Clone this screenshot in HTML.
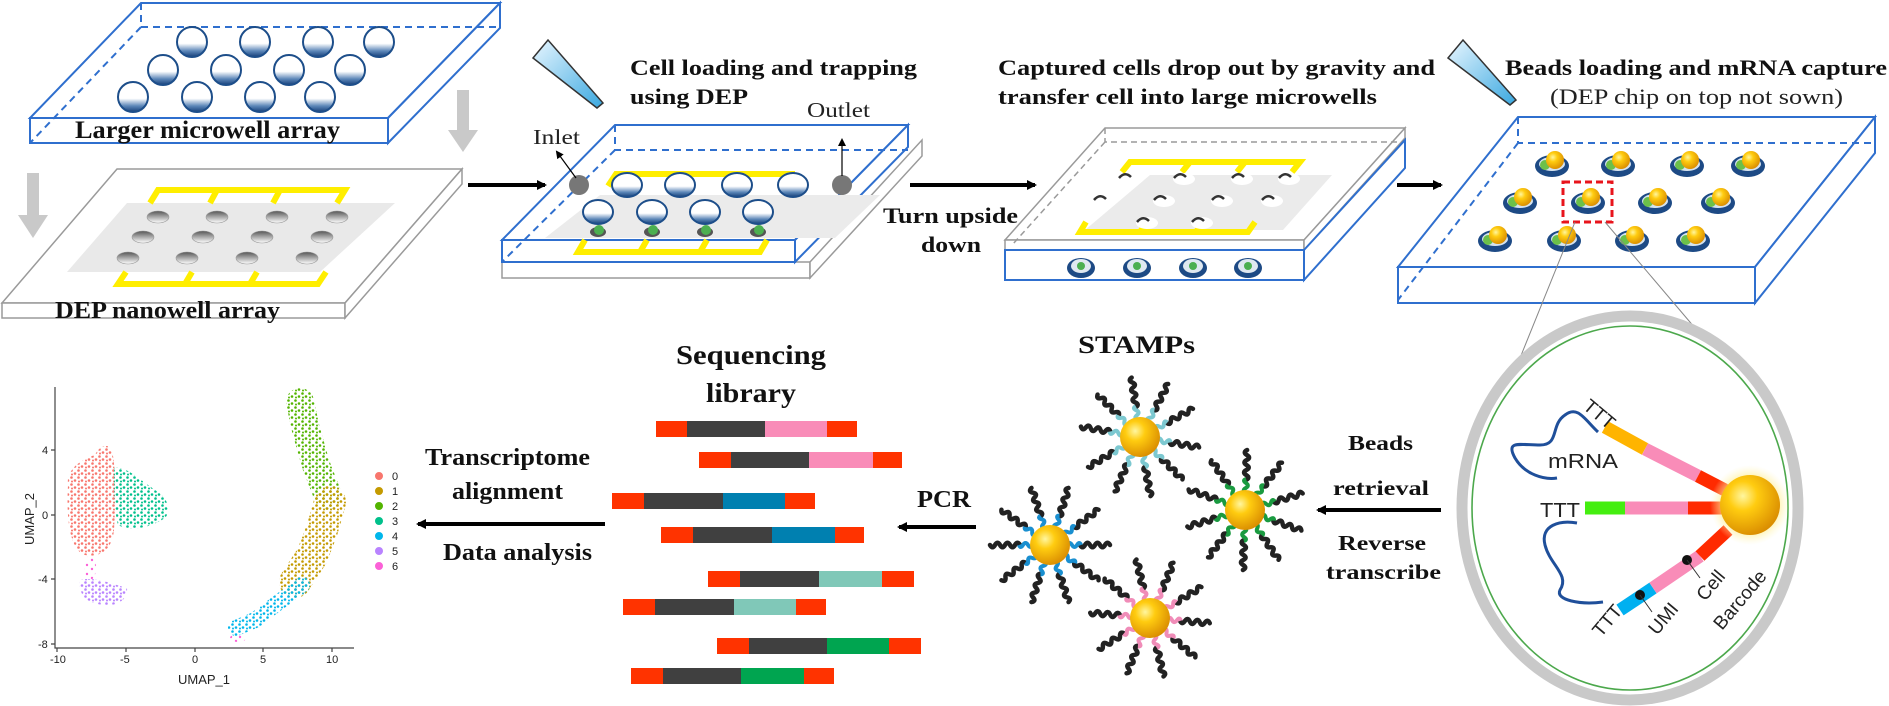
<!DOCTYPE html>
<html><head><meta charset="utf-8">
<style>
html,body{margin:0;padding:0;background:#fff;}
svg{display:block;}
.b{font-family:"Liberation Serif",serif;font-weight:bold;fill:#111;}
.n{font-family:"Liberation Serif",serif;fill:#222;}
.s{font-family:"Liberation Sans",sans-serif;fill:#222;}
</style></head><body>
<svg width="1889" height="706" viewBox="0 0 1889 706" xmlns="http://www.w3.org/2000/svg" xmlns:xlink="http://www.w3.org/1999/xlink">
<defs>
<radialGradient id="gold" cx="0.38" cy="0.35" r="0.7"><stop offset="0" stop-color="#fff6a0"/><stop offset="0.35" stop-color="#ffcc10"/><stop offset="1" stop-color="#d88a00"/></radialGradient>
<radialGradient id="glow" cx="0.5" cy="0.5" r="0.5"><stop offset="0.6" stop-color="#ffe97a" stop-opacity="0.9"/><stop offset="1" stop-color="#fff7c0" stop-opacity="0"/></radialGradient>
<linearGradient id="pip" x1="0" y1="0" x2="1" y2="1"><stop offset="0" stop-color="#e8f6ff"/><stop offset="1" stop-color="#3aa8e0"/></linearGradient>
<linearGradient id="well" x1="0" y1="0" x2="0" y2="1"><stop offset="0" stop-color="#555"/><stop offset="0.5" stop-color="#aaa"/><stop offset="1" stop-color="#fff"/></linearGradient>
<linearGradient id="mwg" x1="0" y1="0" x2="0" y2="1"><stop offset="0" stop-color="#ffffff"/><stop offset="0.55" stop-color="#ffffff"/><stop offset="0.8" stop-color="#5b86b8"/><stop offset="1" stop-color="#163f78"/></linearGradient>
<marker id="ah" markerWidth="10" markerHeight="10" refX="8" refY="5" orient="auto" markerUnits="userSpaceOnUse"><path d="M0,0 L10,5 L0,10 z" fill="#000"/></marker>
<marker id="ahs" markerWidth="8" markerHeight="8" refX="6" refY="4" orient="auto" markerUnits="userSpaceOnUse"><path d="M0,0 L8,4 L0,8 z" fill="#000"/></marker>

<g id="mw"><circle r="15" fill="url(#mwg)" stroke="#1d4e8a" stroke-width="2"/></g>
<g id="mw2"><ellipse rx="15" ry="12" fill="url(#mwg)" stroke="#1d4e8a" stroke-width="2"/></g>
<g id="nw"><ellipse rx="11" ry="6" fill="url(#well)" stroke="#999" stroke-width="0.6"/></g>
<g id="gc"><ellipse cy="1" rx="8" ry="5" fill="#555"/><circle cx="1" cy="-1" r="5" fill="#4caf50"/></g>
<g id="hole"><ellipse cx="4" cy="1" rx="11" ry="6" fill="#fff"/><path d="M-6,0 q6,-7 12,-1" stroke="#333" stroke-width="2.5" fill="none"/></g>
<g id="cell3"><ellipse rx="14" ry="10" fill="#1d4a85"/><ellipse cy="-2" rx="10" ry="7" fill="#dfe8f0"/><circle cy="-2" r="4" fill="#4caf50"/></g>
<g id="bd"><ellipse cy="3" rx="17" ry="11" fill="#1d4a85"/><ellipse cy="1" rx="13" ry="7" fill="#d5e3ef"/><circle cx="-7" cy="2" r="5" fill="#6cc04a"/><circle cx="3" cy="-3" r="9" fill="url(#gold)"/></g>

<path id="blk" d="M30,0 Q32.5,4.5 35,0 T40,0 T45,0 T50,0 T55,0 T60,0" stroke="#222" stroke-width="4.5" fill="none" stroke-linecap="round"/>
<g id="sc"><use href="#blk" xlink:href="#blk"/><path d="M17,0 Q19.5,-4 22,0 T27,0 T31,0" stroke="#7cc8d0" stroke-width="4" fill="none"/></g>
<g id="sb"><use href="#blk" xlink:href="#blk"/><path d="M17,0 Q19.5,-4 22,0 T27,0 T31,0" stroke="#1a8fd0" stroke-width="4" fill="none"/></g>
<g id="sg"><use href="#blk" xlink:href="#blk"/><path d="M17,0 Q19.5,-4 22,0 T27,0 T31,0" stroke="#1a9a40" stroke-width="4" fill="none"/></g>
<g id="sp"><use href="#blk" xlink:href="#blk"/><path d="M17,0 Q19.5,-4 22,0 T27,0 T31,0" stroke="#f08cb8" stroke-width="4" fill="none"/></g>

<pattern id="p0" width="7" height="7" patternUnits="userSpaceOnUse"><circle cx="1.5" cy="1.5" r="1.3" fill="#f8766d"/><circle cx="5" cy="4.5" r="1.3" fill="#f8766d"/><circle cx="2" cy="5.5" r="1" fill="#f8766d"/></pattern>
<pattern id="p1" width="7" height="7" patternUnits="userSpaceOnUse"><circle cx="1.5" cy="1.5" r="1.3" fill="#c49a00"/><circle cx="5" cy="4.5" r="1.3" fill="#c49a00"/><circle cx="2" cy="5.5" r="1" fill="#c49a00"/></pattern>
<pattern id="p2" width="7" height="7" patternUnits="userSpaceOnUse"><circle cx="1.5" cy="1.5" r="1.3" fill="#53b400"/><circle cx="5" cy="4.5" r="1.3" fill="#53b400"/><circle cx="2" cy="5.5" r="1" fill="#53b400"/></pattern>
<pattern id="p3" width="7" height="7" patternUnits="userSpaceOnUse"><circle cx="1.5" cy="1.5" r="1.3" fill="#00c08b"/><circle cx="5" cy="4.5" r="1.3" fill="#00c08b"/><circle cx="2" cy="5.5" r="1" fill="#00c08b"/></pattern>
<pattern id="p4" width="7" height="7" patternUnits="userSpaceOnUse"><circle cx="1.5" cy="1.5" r="1.3" fill="#00b6eb"/><circle cx="5" cy="4.5" r="1.3" fill="#00b6eb"/><circle cx="2" cy="5.5" r="1" fill="#00b6eb"/></pattern>
<pattern id="p5" width="7" height="7" patternUnits="userSpaceOnUse"><circle cx="1.5" cy="1.5" r="1.3" fill="#b983ff"/><circle cx="5" cy="4.5" r="1.3" fill="#b983ff"/><circle cx="2" cy="5.5" r="1" fill="#b983ff"/></pattern>
<pattern id="p6" width="9" height="9" patternUnits="userSpaceOnUse"><circle cx="2" cy="2" r="1.2" fill="#fb61d7"/><circle cx="6" cy="7" r="1.2" fill="#fb61d7"/></pattern>
</defs>

<!-- ===== Panel 1 top box ===== -->
<g stroke="#2f6fce" stroke-width="2" fill="none">
<polygon points="141,3 500,3 388,118 30,118" fill="#fff"/>
<rect x="30" y="118" width="358" height="25" fill="#fff"/>
<polygon points="388,118 500,3 500,28 388,143" fill="#fff"/>
<path d="M141,3 L141,27 L500,27 M141,27 L30,143" stroke-dasharray="7,5"/>
</g>
<use href="#mw" xlink:href="#mw" x="192" y="42"/><use href="#mw" xlink:href="#mw" x="255" y="42"/><use href="#mw" xlink:href="#mw" x="318" y="42"/><use href="#mw" xlink:href="#mw" x="379" y="42"/>
<use href="#mw" xlink:href="#mw" x="163" y="70"/><use href="#mw" xlink:href="#mw" x="226" y="70"/><use href="#mw" xlink:href="#mw" x="289" y="70"/><use href="#mw" xlink:href="#mw" x="350" y="70"/>
<use href="#mw" xlink:href="#mw" x="133" y="97"/><use href="#mw" xlink:href="#mw" x="197" y="97"/><use href="#mw" xlink:href="#mw" x="260" y="97"/><use href="#mw" xlink:href="#mw" x="320" y="97"/>
<text class="b" x="75" y="138" font-size="25" textLength="265" lengthAdjust="spacingAndGlyphs">Larger microwell array</text>

<g fill="#c9c9c9">
<rect x="457" y="90" width="12" height="44"/><polygon points="448,130 478,130 463,152"/>
<rect x="27" y="173" width="12" height="46"/><polygon points="18,215 48,215 33,238"/>
</g>

<!-- ===== Panel 1 DEP box ===== -->
<g stroke="#9a9a9a" stroke-width="1.5">
<polygon points="117,169 462,169 345,303 2,303" fill="#fff"/>
<rect x="2" y="303" width="343" height="15" fill="#fff"/>
<polygon points="345,303 462,169 462,184 345,318" fill="#fff"/>
</g>
<polygon points="127,203 395,203 320,272 67,272" fill="#e9e9e9"/>
<g stroke="#ffee00" stroke-width="6" fill="none">
<path d="M150,203 L158,190 L345,190 L337,203 M217,190 L210,203 M280,190 L273,203"/>
<path d="M126,272 L118,284 L318,284 L326,272 M185,284 L192,272 M250,284 L257,272"/>
</g>
<use href="#nw" xlink:href="#nw" x="158" y="217"/><use href="#nw" xlink:href="#nw" x="217" y="217"/><use href="#nw" xlink:href="#nw" x="277" y="217"/><use href="#nw" xlink:href="#nw" x="337" y="217"/>
<use href="#nw" xlink:href="#nw" x="143" y="237"/><use href="#nw" xlink:href="#nw" x="203" y="237"/><use href="#nw" xlink:href="#nw" x="262" y="237"/><use href="#nw" xlink:href="#nw" x="322" y="237"/>
<use href="#nw" xlink:href="#nw" x="128" y="258"/><use href="#nw" xlink:href="#nw" x="187" y="258"/><use href="#nw" xlink:href="#nw" x="247" y="258"/><use href="#nw" xlink:href="#nw" x="307" y="258"/>
<text class="b" x="55" y="318" font-size="24" textLength="225" lengthAdjust="spacingAndGlyphs">DEP nanowell array</text>

<line x1="468" y1="185" x2="545" y2="185" stroke="#000" stroke-width="4" marker-end="url(#ah)"/>

<!-- ===== Panel 2 ===== -->
<polygon points="533,58 548,40 603,103 597,108" fill="url(#pip)" stroke="#333" stroke-width="1.5"/>
<text class="b" x="630" y="75" font-size="22" textLength="287" lengthAdjust="spacingAndGlyphs">Cell loading and trapping</text>
<text class="b" x="630" y="104" font-size="22" textLength="118" lengthAdjust="spacingAndGlyphs">using DEP</text>
<g stroke="#9a9a9a" stroke-width="1.5" fill="#fff">
<rect x="502" y="262" width="308" height="16"/>
<polygon points="810,262 922,140 922,156 810,278"/>
</g>
<g stroke="#2f6fce" stroke-width="2">
<polygon points="615,125 908,125 795,240 502,240" fill="#fff"/>
<rect x="502" y="240" width="293" height="22" fill="#fff"/>
<polygon points="795,240 908,125 908,147 795,262" fill="#fff"/>
<path d="M615,125 L615,150 L908,150 M615,150 L502,262" fill="none" stroke-dasharray="7,5"/>
</g>
<polygon points="600,195 880,195 835,238 545,238" fill="#ebebeb"/>
<g stroke="#ffee00" stroke-width="6" fill="none">
<path d="M608,186 L616,174 L795,174 M680,174 L672,186 M740,174 L732,186"/>
<path d="M585,240 L578,252 L760,252 L767,240 M640,252 L647,240 M700,252 L707,240"/>
</g>
<use href="#mw2" xlink:href="#mw2" x="627" y="185"/><use href="#mw2" xlink:href="#mw2" x="680" y="185"/><use href="#mw2" xlink:href="#mw2" x="737" y="185"/><use href="#mw2" xlink:href="#mw2" x="793" y="185"/>
<use href="#mw2" xlink:href="#mw2" x="598" y="212"/><use href="#mw2" xlink:href="#mw2" x="652" y="212"/><use href="#mw2" xlink:href="#mw2" x="705" y="212"/><use href="#mw2" xlink:href="#mw2" x="758" y="212"/>
<use href="#gc" xlink:href="#gc" x="598" y="231"/><use href="#gc" xlink:href="#gc" x="652" y="231"/><use href="#gc" xlink:href="#gc" x="705" y="231"/><use href="#gc" xlink:href="#gc" x="758" y="231"/>
<circle cx="579" cy="185" r="10" fill="#777"/>
<circle cx="842" cy="185" r="10" fill="#777"/>
<line x1="576" y1="178" x2="557" y2="152" stroke="#000" stroke-width="1.2" marker-end="url(#ahs)"/>
<line x1="842" y1="176" x2="842" y2="140" stroke="#000" stroke-width="1.2" marker-end="url(#ahs)"/>
<text class="n" x="533" y="144" font-size="21" textLength="47" lengthAdjust="spacingAndGlyphs">Inlet</text>
<text class="n" x="807" y="117" font-size="21" textLength="63" lengthAdjust="spacingAndGlyphs">Outlet</text>

<line x1="910" y1="185" x2="1035" y2="185" stroke="#000" stroke-width="4" marker-end="url(#ah)"/>
<text class="b" x="883" y="223" font-size="22" textLength="135" lengthAdjust="spacingAndGlyphs">Turn upside</text>
<text class="b" x="921" y="252" font-size="22" textLength="60" lengthAdjust="spacingAndGlyphs">down</text>

<!-- ===== Panel 3 ===== -->
<text class="b" x="998" y="75" font-size="22" textLength="437" lengthAdjust="spacingAndGlyphs">Captured cells drop out by gravity and</text>
<text class="b" x="998" y="104" font-size="22" textLength="379" lengthAdjust="spacingAndGlyphs">transfer cell into large microwells</text>
<g stroke="#9a9a9a" stroke-width="1.5" fill="#fff">
<polygon points="1105,128 1405,128 1304,240 1005,240"/>
<rect x="1005" y="240" width="299" height="10"/>
<polygon points="1304,240 1405,128 1405,138 1304,250"/>
<path d="M1105,128 L1105,142 L1400,142 M1105,142 L1012,245" fill="none" stroke-dasharray="6,4"/>
</g>
<g stroke="#2f6fce" stroke-width="2" fill="#fff">
<rect x="1005" y="250" width="299" height="30"/>
<polygon points="1304,250 1405,140 1405,168 1304,280"/>
</g>
<polygon points="1150,175 1332,175 1283,230 1085,230" fill="#ebebeb"/>
<g stroke="#ffee00" stroke-width="6" fill="none">
<path d="M1122,172 L1130,162 L1300,162 L1292,172 M1190,162 L1182,172 M1245,162 L1237,172"/>
<path d="M1086,222 L1080,232 L1248,232 L1255,222 M1140,232 L1147,222 M1196,232 L1203,222"/>
</g>
<use href="#hole" xlink:href="#hole" x="1125" y="178"/><use href="#hole" xlink:href="#hole" x="1180" y="178"/><use href="#hole" xlink:href="#hole" x="1238" y="178"/><use href="#hole" xlink:href="#hole" x="1285" y="178"/>
<use href="#hole" xlink:href="#hole" x="1100" y="200"/><use href="#hole" xlink:href="#hole" x="1160" y="200"/><use href="#hole" xlink:href="#hole" x="1218" y="200"/><use href="#hole" xlink:href="#hole" x="1268" y="200"/>
<use href="#hole" xlink:href="#hole" x="1143" y="222"/><use href="#hole" xlink:href="#hole" x="1198" y="222"/>
<use href="#cell3" xlink:href="#cell3" x="1081" y="268"/><use href="#cell3" xlink:href="#cell3" x="1137" y="268"/><use href="#cell3" xlink:href="#cell3" x="1193" y="268"/><use href="#cell3" xlink:href="#cell3" x="1248" y="268"/>

<line x1="1397" y1="185" x2="1441" y2="185" stroke="#000" stroke-width="4" marker-end="url(#ah)"/>

<!-- ===== Panel 4 ===== -->
<polygon points="1448,58 1463,40 1516,100 1510,105" fill="url(#pip)" stroke="#333" stroke-width="1.5"/>
<text class="b" x="1505" y="75" font-size="22" textLength="382" lengthAdjust="spacingAndGlyphs">Beads loading and mRNA capture</text>
<text class="n" x="1550" y="104" font-size="22" textLength="293" lengthAdjust="spacingAndGlyphs">(DEP chip on top not sown)</text>
<g stroke="#2f6fce" stroke-width="2" fill="#fff">
<polygon points="1518,117 1875,117 1755,267 1398,267"/>
<rect x="1398" y="267" width="357" height="36"/>
<polygon points="1755,267 1875,117 1875,153 1755,303"/>
<path d="M1518,117 L1518,143 L1875,143 M1518,143 L1398,300" fill="none" stroke-dasharray="7,5"/>
</g>
<use href="#bd" xlink:href="#bd" x="1552" y="163"/><use href="#bd" xlink:href="#bd" x="1618" y="163"/><use href="#bd" xlink:href="#bd" x="1687" y="163"/><use href="#bd" xlink:href="#bd" x="1748" y="163"/>
<use href="#bd" xlink:href="#bd" x="1520" y="200"/><use href="#bd" xlink:href="#bd" x="1588" y="200"/><use href="#bd" xlink:href="#bd" x="1655" y="200"/><use href="#bd" xlink:href="#bd" x="1718" y="200"/>
<use href="#bd" xlink:href="#bd" x="1495" y="238"/><use href="#bd" xlink:href="#bd" x="1564" y="238"/><use href="#bd" xlink:href="#bd" x="1632" y="238"/><use href="#bd" xlink:href="#bd" x="1693" y="238"/>
<rect x="1563" y="182" width="49" height="40" fill="none" stroke="#e8141c" stroke-width="3" stroke-dasharray="7,4"/>
<line x1="1575" y1="222" x2="1520" y2="358" stroke="#888" stroke-width="1"/>
<line x1="1605" y1="222" x2="1695" y2="328" stroke="#888" stroke-width="1"/>

<!-- ===== Zoom circle ===== -->
<ellipse cx="1630" cy="508" rx="168" ry="192" fill="#fff" stroke="#c9c9c9" stroke-width="11"/>
<ellipse cx="1630" cy="508" rx="158" ry="182" fill="#fff" stroke="#4ca84c" stroke-width="1.6"/>
<g fill="none" stroke-width="13">
<line x1="1605" y1="427" x2="1645" y2="449" stroke="#ffb400"/>
<line x1="1645" y1="449" x2="1698" y2="476" stroke="#f98cb8"/>
<line x1="1698" y1="476" x2="1725" y2="490" stroke="#ff2a00"/>
<line x1="1585" y1="508" x2="1625" y2="508" stroke="#44ee10"/>
<line x1="1625" y1="508" x2="1688" y2="508" stroke="#f98cb8"/>
<line x1="1688" y1="508" x2="1722" y2="508" stroke="#ff2a00"/>
<line x1="1620" y1="610" x2="1653" y2="588" stroke="#00b0f0"/>
<line x1="1653" y1="588" x2="1700" y2="556" stroke="#f98cb8"/>
<line x1="1700" y1="556" x2="1728" y2="530" stroke="#ff2a00"/>
</g>
<circle cx="1750" cy="505" r="40" fill="url(#glow)"/>
<circle cx="1750" cy="505" r="30" fill="url(#gold)"/>
<path d="M1598,432 C1585,420 1578,405 1565,415 C1550,425 1560,445 1540,445 C1520,445 1505,440 1515,458 C1525,475 1545,480 1557,478" stroke="#1f4f9a" stroke-width="3" fill="none"/>
<path d="M1577,523 C1560,520 1540,525 1545,545 C1550,565 1570,575 1560,590 C1555,600 1580,605 1603,602" stroke="#1f4f9a" stroke-width="3" fill="none"/>
<text class="s" x="1548" y="468" font-size="20" textLength="70" lengthAdjust="spacingAndGlyphs">mRNA</text>
<text class="s" x="1540" y="517" font-size="20" textLength="40" lengthAdjust="spacingAndGlyphs">TTT</text>
<text class="s" font-size="19" transform="translate(1582,408) rotate(40)">TTT</text>
<text class="s" font-size="19" transform="translate(1601,638) rotate(-50)">TTT</text>
<text class="s" font-size="19" transform="translate(1657,636) rotate(-50)">UMI</text>
<text class="s" font-size="19" transform="translate(1705,602) rotate(-50)">Cell</text>
<text class="s" font-size="19" transform="translate(1722,631) rotate(-50)">Barcode</text>
<circle cx="1640" cy="595" r="5" fill="#111"/>
<circle cx="1687" cy="560" r="5" fill="#111"/>
<line x1="1640" y1="595" x2="1652" y2="612" stroke="#333"/>
<line x1="1687" y1="560" x2="1700" y2="578" stroke="#333"/>

<text class="b" x="1348" y="450" font-size="21" textLength="65" lengthAdjust="spacingAndGlyphs">Beads</text>
<text class="b" x="1333" y="495" font-size="21" textLength="96" lengthAdjust="spacingAndGlyphs">retrieval</text>
<line x1="1441" y1="510" x2="1318" y2="510" stroke="#000" stroke-width="4" marker-end="url(#ah)"/>
<text class="b" x="1338" y="550" font-size="21" textLength="88" lengthAdjust="spacingAndGlyphs">Reverse</text>
<text class="b" x="1326" y="579" font-size="21" textLength="115" lengthAdjust="spacingAndGlyphs">transcribe</text>

<!-- STAMPs -->
<text class="b" x="1078" y="353" font-size="25" textLength="117" lengthAdjust="spacingAndGlyphs">STAMPs</text>
<g transform="translate(1140,437)">
<use href="#sc" xlink:href="#sc" transform="rotate(10)"/><use href="#sc" xlink:href="#sc" transform="rotate(45)"/><use href="#sc" xlink:href="#sc" transform="rotate(80)"/><use href="#sc" xlink:href="#sc" transform="rotate(115)"/><use href="#sc" xlink:href="#sc" transform="rotate(150)"/><use href="#sc" xlink:href="#sc" transform="rotate(190)"/><use href="#sc" xlink:href="#sc" transform="rotate(225)"/><use href="#sc" xlink:href="#sc" transform="rotate(262)"/><use href="#sc" xlink:href="#sc" transform="rotate(298)"/><use href="#sc" xlink:href="#sc" transform="rotate(332)"/>
<circle r="20" fill="url(#gold)"/></g>
<g transform="translate(1050,545)">
<use href="#sb" xlink:href="#sb" transform="rotate(0)"/><use href="#sb" xlink:href="#sb" transform="rotate(36)"/><use href="#sb" xlink:href="#sb" transform="rotate(72)"/><use href="#sb" xlink:href="#sb" transform="rotate(108)"/><use href="#sb" xlink:href="#sb" transform="rotate(144)"/><use href="#sb" xlink:href="#sb" transform="rotate(180)"/><use href="#sb" xlink:href="#sb" transform="rotate(216)"/><use href="#sb" xlink:href="#sb" transform="rotate(252)"/><use href="#sb" xlink:href="#sb" transform="rotate(288)"/><use href="#sb" xlink:href="#sb" transform="rotate(324)"/>
<circle r="20" fill="url(#gold)"/></g>
<g transform="translate(1245,510)">
<use href="#sg" xlink:href="#sg" transform="rotate(20)"/><use href="#sg" xlink:href="#sg" transform="rotate(56)"/><use href="#sg" xlink:href="#sg" transform="rotate(92)"/><use href="#sg" xlink:href="#sg" transform="rotate(128)"/><use href="#sg" xlink:href="#sg" transform="rotate(164)"/><use href="#sg" xlink:href="#sg" transform="rotate(200)"/><use href="#sg" xlink:href="#sg" transform="rotate(236)"/><use href="#sg" xlink:href="#sg" transform="rotate(272)"/><use href="#sg" xlink:href="#sg" transform="rotate(308)"/><use href="#sg" xlink:href="#sg" transform="rotate(344)"/>
<circle r="20" fill="url(#gold)"/></g>
<g transform="translate(1150,618)">
<use href="#sp" xlink:href="#sp" transform="rotate(5)"/><use href="#sp" xlink:href="#sp" transform="rotate(41)"/><use href="#sp" xlink:href="#sp" transform="rotate(77)"/><use href="#sp" xlink:href="#sp" transform="rotate(113)"/><use href="#sp" xlink:href="#sp" transform="rotate(149)"/><use href="#sp" xlink:href="#sp" transform="rotate(185)"/><use href="#sp" xlink:href="#sp" transform="rotate(221)"/><use href="#sp" xlink:href="#sp" transform="rotate(257)"/><use href="#sp" xlink:href="#sp" transform="rotate(293)"/><use href="#sp" xlink:href="#sp" transform="rotate(329)"/>
<circle r="20" fill="url(#gold)"/></g>

<!-- PCR -->
<text class="b" x="917" y="507" font-size="24" textLength="54" lengthAdjust="spacingAndGlyphs">PCR</text>
<line x1="976" y1="527" x2="899" y2="527" stroke="#000" stroke-width="4" marker-end="url(#ah)"/>

<!-- Sequencing library -->
<text class="b" x="676" y="364" font-size="27" textLength="150" lengthAdjust="spacingAndGlyphs">Sequencing</text>
<text class="b" x="706" y="402" font-size="27" textLength="90" lengthAdjust="spacingAndGlyphs">library</text>
<g>
<rect x="656" y="421" width="201" height="16" fill="#ff3300"/><rect x="687" y="421" width="78" height="16" fill="#404040"/><rect x="765" y="421" width="62" height="16" fill="#f98cb8"/>
<rect x="699" y="452" width="203" height="16" fill="#ff3300"/><rect x="731" y="452" width="78" height="16" fill="#404040"/><rect x="809" y="452" width="64" height="16" fill="#f98cb8"/>
<rect x="612" y="493" width="203" height="16" fill="#ff3300"/><rect x="644" y="493" width="79" height="16" fill="#404040"/><rect x="723" y="493" width="62" height="16" fill="#0080b0"/>
<rect x="661" y="527" width="203" height="16" fill="#ff3300"/><rect x="693" y="527" width="79" height="16" fill="#404040"/><rect x="772" y="527" width="63" height="16" fill="#0080b0"/>
<rect x="708" y="571" width="206" height="16" fill="#ff3300"/><rect x="740" y="571" width="79" height="16" fill="#404040"/><rect x="819" y="571" width="63" height="16" fill="#80c8b8"/>
<rect x="623" y="599" width="203" height="16" fill="#ff3300"/><rect x="655" y="599" width="79" height="16" fill="#404040"/><rect x="734" y="599" width="62" height="16" fill="#80c8b8"/>
<rect x="717" y="638" width="204" height="16" fill="#ff3300"/><rect x="749" y="638" width="78" height="16" fill="#404040"/><rect x="827" y="638" width="62" height="16" fill="#00a550"/>
<rect x="631" y="668" width="203" height="16" fill="#ff3300"/><rect x="663" y="668" width="78" height="16" fill="#404040"/><rect x="741" y="668" width="63" height="16" fill="#00a550"/>
</g>

<!-- Transcriptome arrow -->
<text class="b" x="425" y="465" font-size="24" textLength="165" lengthAdjust="spacingAndGlyphs">Transcriptome</text>
<text class="b" x="452" y="499" font-size="24" textLength="111" lengthAdjust="spacingAndGlyphs">alignment</text>
<line x1="605" y1="524" x2="418" y2="524" stroke="#000" stroke-width="4" marker-end="url(#ah)"/>
<text class="b" x="443" y="560" font-size="24" textLength="149" lengthAdjust="spacingAndGlyphs">Data analysis</text>

<!-- UMAP -->
<g stroke="#444" stroke-width="1.2" fill="none">
<path d="M55,387 L55,648 L354,648"/>
<path d="M57,648 v4 M126,648 v4 M195,648 v4 M263,648 v4 M332,648 v4 M51,450 h4 M51,515 h4 M51,579 h4 M51,644 h4"/>
</g>
<g class="s" font-size="11" fill="#444">
<text x="50" y="663">-10</text><text x="120" y="663">-5</text><text x="192" y="663">0</text><text x="260" y="663">5</text><text x="326" y="663">10</text>
<text x="42" y="454">4</text><text x="42" y="519">0</text><text x="38" y="583">-4</text><text x="38" y="648">-8</text>
<text x="178" y="684" font-size="13">UMAP_1</text>
<text font-size="13" transform="translate(34,545) rotate(-90)">UMAP_2</text>
</g>
<g>
<path d="M68,485 C66,470 80,460 95,455 C100,445 108,443 112,450 C116,470 116,500 114,530 C112,550 100,558 85,555 C70,550 66,520 68,485 Z" fill="url(#p0)"/>
<path d="M114,468 C125,465 140,480 155,490 C168,498 172,510 165,518 C150,528 130,532 118,525 C114,510 114,490 114,468 Z" fill="url(#p3)"/>
<path d="M80,580 C95,576 115,585 127,588 C128,598 120,606 105,605 C90,604 78,598 80,580 Z" fill="url(#p5)"/>
<polyline points="300,402 306,430 316,465 328,496" fill="none" stroke="url(#p2)" stroke-width="28" stroke-linecap="round"/>
<polyline points="330,502 322,530 312,556 295,582" fill="none" stroke="url(#p1)" stroke-width="32" stroke-linecap="round"/>
<polyline points="236,628 255,620 275,605 302,585" fill="none" stroke="url(#p4)" stroke-width="16" stroke-linecap="round"/>
<ellipse cx="90" cy="568" rx="6" ry="12" fill="url(#p6)"/>
<ellipse cx="238" cy="638" rx="8" ry="4" fill="url(#p6)"/>
</g>
<g class="s" font-size="11" fill="#444">
<circle cx="379" cy="476" r="4" fill="#f8766d"/><text x="392" y="480">0</text>
<circle cx="379" cy="491" r="4" fill="#c49a00"/><text x="392" y="495">1</text>
<circle cx="379" cy="506" r="4" fill="#53b400"/><text x="392" y="510">2</text>
<circle cx="379" cy="521" r="4" fill="#00c08b"/><text x="392" y="525">3</text>
<circle cx="379" cy="536" r="4" fill="#00b6eb"/><text x="392" y="540">4</text>
<circle cx="379" cy="551" r="4" fill="#b983ff"/><text x="392" y="555">5</text>
<circle cx="379" cy="566" r="4" fill="#fb61d7"/><text x="392" y="570">6</text>
</g>
</svg>
</body></html>
